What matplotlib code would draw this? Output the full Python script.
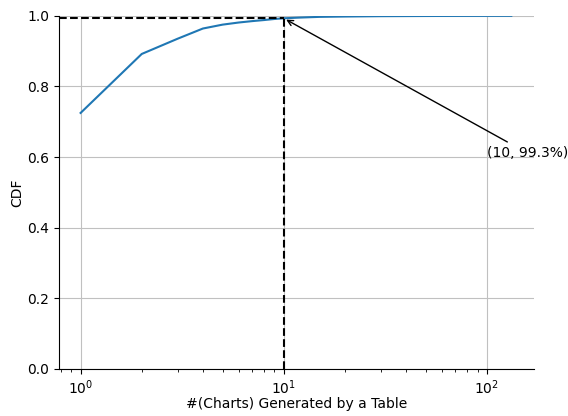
import matplotlib
matplotlib.use("Agg")
import matplotlib.pyplot as plt

counts = [1, 2, 3, 4, 5, 6, 7, 8, 9, 10, 12, 15, 20, 30, 50, 80, 132]
cdf = [0.725, 0.892, 0.935, 0.964, 0.975, 0.981, 0.985, 0.988, 0.991, 0.993,
       0.995, 0.997, 0.998, 0.999, 0.9995, 0.9998, 1.0]

mark_x = 10
mark_y = 0.993
label_text = "(10, 99.3%)"
label_pos = (100, 0.6)

fig = plt.figure(figsize=(5.68, 4.16), dpi=100)
ax = fig.add_axes([0.104, 0.113, 0.836, 0.849])
ax.plot(counts, cdf, color="#1f77b4", lw=1.5)
ax.set_xscale("log")
ax.set_ylim(0, 1.0)
ax.grid(True, which="major", color="#c0c0c0", lw=0.8)
ax.set_axisbelow(True)
for s in ("top", "right"):
    ax.spines[s].set_visible(False)

xmin = ax.get_xlim()[0]
ax.plot([xmin, mark_x], [mark_y, mark_y], "k--", lw=1.5)
ax.plot([mark_x, mark_x], [0, mark_y], "k--", lw=1.5)
ax.set_xlim(left=xmin)

ax.annotate(label_text, xy=(mark_x, mark_y), xytext=label_pos,
            arrowprops=dict(arrowstyle="->", color="black", lw=1))

ax.set_xlabel("#(Charts) Generated by a Table", labelpad=0)
ax.set_ylabel("CDF", labelpad=2.5)
fig.savefig("out.png", dpi=100)
